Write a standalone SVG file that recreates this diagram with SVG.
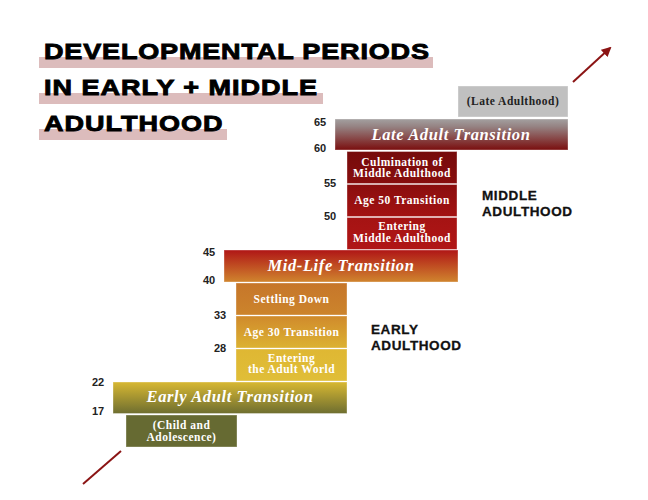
<svg xmlns="http://www.w3.org/2000/svg" width="648" height="500" viewBox="0 0 648 500">
<defs>
<linearGradient id="gLateT" x1="0" y1="0" x2="0" y2="1"><stop offset="0" stop-color="#a3a0a0"/><stop offset="0.25" stop-color="#958282"/><stop offset="1" stop-color="#7a0e0e"/></linearGradient>
<linearGradient id="gCulm" x1="0" y1="0" x2="0" y2="1"><stop offset="0" stop-color="#760b0b"/><stop offset="1" stop-color="#870e0e"/></linearGradient>
<linearGradient id="gAge50" x1="0" y1="0" x2="0" y2="1"><stop offset="0" stop-color="#8a0e0e"/><stop offset="1" stop-color="#a31212"/></linearGradient>
<linearGradient id="gEntM" x1="0" y1="0" x2="0" y2="1"><stop offset="0" stop-color="#a51313"/><stop offset="1" stop-color="#b01616"/></linearGradient>
<linearGradient id="gMid" x1="0" y1="0" x2="0" y2="1"><stop offset="0" stop-color="#b01616"/><stop offset="1" stop-color="#d0852e"/></linearGradient>
<linearGradient id="gSettle" x1="0" y1="0" x2="0" y2="1"><stop offset="0" stop-color="#c6762a"/><stop offset="1" stop-color="#cc842c"/></linearGradient>
<linearGradient id="gAge30" x1="0" y1="0" x2="0" y2="1"><stop offset="0" stop-color="#d08a2c"/><stop offset="1" stop-color="#dcb232"/></linearGradient>
<linearGradient id="gEntA" x1="0" y1="0" x2="0" y2="1"><stop offset="0" stop-color="#dfb733"/><stop offset="1" stop-color="#e0be38"/></linearGradient>
<linearGradient id="gEarly" x1="0" y1="0" x2="0" y2="1"><stop offset="0" stop-color="#d8b832"/><stop offset="1" stop-color="#6e6e30"/></linearGradient>
<marker id="ah" viewBox="0 0 10 10" refX="8" refY="5" markerWidth="5" markerHeight="5" orient="auto" markerUnits="strokeWidth"><path d="M0,0 L10,5 L0,10 Z" fill="#8b1414"/></marker>
<style>
.hl{fill:#dcbcbc}
.title{font-family:"Liberation Sans",Arial,sans-serif;font-weight:bold;font-size:22.5px;fill:#000;stroke:#000;stroke-width:0.9}
.sec{font-family:"Liberation Sans",Arial,sans-serif;font-weight:bold;font-size:13.5px;fill:#111;stroke:#111;stroke-width:0.3;letter-spacing:0.6px}
.age{font-family:"Liberation Sans",Arial,sans-serif;font-weight:bold;font-size:11px;fill:#222;text-anchor:middle}
.box{stroke:#ffffff;stroke-opacity:0.35;stroke-width:1}
.big{font-family:"Liberation Serif","Times New Roman",serif;font-style:italic;font-weight:bold;font-size:16.5px;fill:#fff;text-anchor:middle;letter-spacing:0.6px}
.sm{font-family:"Liberation Serif","Times New Roman",serif;font-weight:bold;font-size:11.5px;fill:#fff;text-anchor:middle;letter-spacing:0.5px}
.dk{fill:#222}
.conn{stroke:#8b1414;stroke-width:2;fill:none}
</style>
</defs>
<rect width="648" height="500" fill="#fff"/>

<g id="title">
<rect class="hl" x="39" y="57" width="394" height="11"/>
<rect class="hl" x="39" y="93" width="284" height="11"/>
<rect class="hl" x="39" y="129" width="188" height="11"/>
<g transform="scale(1.2,1)">
<text class="title" x="36.67" y="59.5" textLength="320.8" lengthAdjust="spacing">DEVELOPMENTAL PERIODS</text>
<text class="title" x="36.67" y="95" textLength="227.5" lengthAdjust="spacing">IN EARLY + MIDDLE</text>
<text class="title" x="36.67" y="130.7" textLength="148.8" lengthAdjust="spacing">ADULTHOOD</text>
</g>
</g>

<g id="ages">
<text class="age" x="320" y="125.5">65</text>
<text class="age" x="320" y="151.5">60</text>
<text class="age" x="330" y="187">55</text>
<text class="age" x="330" y="220">50</text>
<text class="age" x="209" y="255.5">45</text>
<text class="age" x="209" y="284">40</text>
<text class="age" x="220" y="318.5">33</text>
<text class="age" x="220" y="352">28</text>
<text class="age" x="98" y="386">22</text>
<text class="age" x="98" y="414.5">17</text>
</g>

<g id="late-adulthood">
<rect class="box" x="458" y="86" width="110" height="31" fill="#c0c0c0"/>
<text class="sm dk" x="513" y="104.5">(Late Adulthood)</text>
</g>
<g id="late-adult-transition">
<rect class="box" x="335" y="119" width="233" height="31" fill="url(#gLateT)"/>
<text class="big" x="451" y="139.5">Late Adult Transition</text>
</g>
<g id="culmination">
<rect class="box" x="347" y="151.5" width="110" height="32" fill="url(#gCulm)"/>
<text class="sm" x="402" y="166">Culmination of</text>
<text class="sm" x="402" y="177">Middle Adulthood</text>
</g>
<g id="age50">
<rect class="box" x="347" y="184.5" width="110" height="32" fill="url(#gAge50)"/>
<text class="sm" x="402" y="204">Age 50 Transition</text>
</g>
<g id="entering-middle">
<rect class="box" x="347" y="217.5" width="110" height="32" fill="url(#gEntM)"/>
<text class="sm" x="402" y="230">Entering</text>
<text class="sm" x="402" y="241.5">Middle Adulthood</text>
</g>
<g id="middle-adulthood-label">
<text class="sec" x="482" y="199.5">MIDDLE</text>
<text class="sec" x="482" y="216">ADULTHOOD</text>
</g>
<g id="mid-life-transition">
<rect class="box" x="224" y="250" width="234" height="32" fill="url(#gMid)"/>
<text class="big" x="341" y="271">Mid-Life Transition</text>
</g>
<g id="settling-down">
<rect class="box" x="236" y="283" width="111" height="32" fill="url(#gSettle)"/>
<text class="sm" x="291.5" y="303">Settling Down</text>
</g>
<g id="age30">
<rect class="box" x="236" y="316" width="111" height="32" fill="url(#gAge30)"/>
<text class="sm" x="291.5" y="336">Age 30 Transition</text>
</g>
<g id="entering-adult">
<rect class="box" x="236" y="349" width="111" height="32" fill="url(#gEntA)"/>
<text class="sm" x="291.5" y="361.5">Entering</text>
<text class="sm" x="291.5" y="373">the Adult World</text>
</g>
<g id="early-adulthood-label">
<text class="sec" x="371" y="333.5">EARLY</text>
<text class="sec" x="371" y="350">ADULTHOOD</text>
</g>
<g id="early-adult-transition">
<rect class="box" x="113" y="382" width="234" height="31.5" fill="url(#gEarly)"/>
<text class="big" x="230" y="402">Early Adult Transition</text>
</g>
<g id="child">
<rect class="box" x="126" y="415" width="111" height="32" fill="#666a32"/>
<text class="sm" x="181.5" y="429">(Child and</text>
<text class="sm" x="181.5" y="441">Adolescence)</text>
</g>

<g id="connectors">
<line class="conn" x1="83" y1="484" x2="121" y2="451"/>
<line class="conn" x1="573" y1="82" x2="610" y2="48" marker-end="url(#ah)"/>
</g>
</svg>
